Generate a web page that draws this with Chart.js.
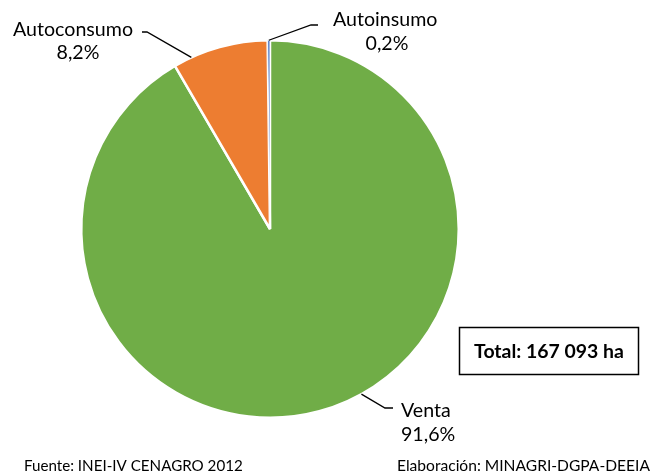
<!DOCTYPE html>
<html><head><meta charset="utf-8">
<script src="https://cdn.jsdelivr.net/npm/chart.js@4.4.1/dist/chart.umd.min.js"></script>
<style>html,body{margin:0;padding:0;background:#fff}#wrap{width:654px;height:475px;position:relative}</style>
</head><body><div id="wrap"><canvas id="c" width="654" height="475"></canvas></div>
<script>
const categories = ["Venta", "Autoconsumo", "Autoinsumo"];
const values = [91.6, 8.2, 0.2];
const percentLabels = ["91,6%", "8,2%", "0,2%"];
const colors = ["#70AD47", "#ED7D31", "#4472C4"];
const totalText = "Total: 167 093 ha";
const sourceText = "Fuente: INEI-IV CENAGRO 2012";
const creditText = "Elaboración: MINAGRI-DGPA-DEEIA";

const FONT = "Lato, 'Liberation Sans', sans-serif";

// label layout: fraction within slice where the leader starts, elbow, line end, text anchor
const labelLayout = [
  {t: 0.458, elbow: [385, 408], end: [393, 408], text: [401, 411], align: 'left', pct: [401, 435]},
  {t: 0.19, elbow: [147, 32], end: [142, 32], text: [133, 30], align: 'right', pct: [78, 53], pctAlign: 'center'},
  {t: 0.5, elbow: [311, 25], end: [318, 25], text: [333, 20], align: 'left', pct: [387, 44], pctAlign: 'center'}
];

function fitFont(ctx, text, width, weight) {
  let size = 20;
  ctx.font = (weight || '') + ' ' + size + 'px ' + FONT;
  const w = ctx.measureText(text).width;
  size = size * width / w;
  return (weight || '') + ' ' + size.toFixed(2) + 'px ' + FONT;
}

const overlay = {
  id: 'overlay',
  afterDraw(chart) {
    const ctx = chart.ctx;
    const meta = chart.getDatasetMeta(0);
    ctx.save();
    meta.data.forEach((arc, i) => {
      const L = labelLayout[i];
      const a = arc.startAngle + (arc.endAngle - arc.startAngle) * L.t;
      const sx = arc.x + arc.outerRadius * Math.cos(a);
      const sy = arc.y + arc.outerRadius * Math.sin(a);
      ctx.strokeStyle = '#000';
      ctx.lineWidth = 1.3;
      ctx.beginPath();
      ctx.moveTo(sx, sy);
      ctx.lineTo(L.elbow[0], L.elbow[1]);
      ctx.lineTo(L.end[0], L.end[1]);
      ctx.stroke();
      ctx.fillStyle = '#000';
      ctx.textBaseline = 'middle';
      ctx.font = fitFont(ctx, 'Autoconsumo', 120);
      ctx.textAlign = L.align;
      ctx.fillText(categories[i], L.text[0], L.text[1]);
      ctx.textAlign = L.pctAlign || 'left';
      ctx.fillText(percentLabels[i], L.pct[0], L.pct[1]);
    });
    // total box
    ctx.lineWidth = 1.5;
    ctx.strokeStyle = '#000';
    ctx.strokeRect(459.5, 327.5, 179, 47);
    ctx.font = fitFont(ctx, totalText, 150, 'bold');
    ctx.textAlign = 'center';
    ctx.textBaseline = 'middle';
    ctx.fillText(totalText, 549, 352);
    // footer
    ctx.font = fitFont(ctx, sourceText, 219);
    ctx.textAlign = 'left';
    ctx.fillText(sourceText, 24, 466);
    ctx.font = fitFont(ctx, creditText, 253);
    ctx.fillText(creditText, 397, 466);
    ctx.restore();
  }
};

new Chart(document.getElementById('c'), {
  type: 'pie',
  data: {
    labels: categories,
    datasets: [{
      data: values,
      backgroundColor: colors,
      borderColor: '#ffffff',
      borderWidth: [2.5, 2.5, 1]
    }]
  },
  options: {
    responsive: false,
    animation: false,
    rotation: 0,
    layout: {padding: {left: 80, right: 194, top: 39, bottom: 56}},
    plugins: {legend: {display: false}, tooltip: {enabled: false}}
  },
  plugins: [overlay]
});
</script></body></html>
